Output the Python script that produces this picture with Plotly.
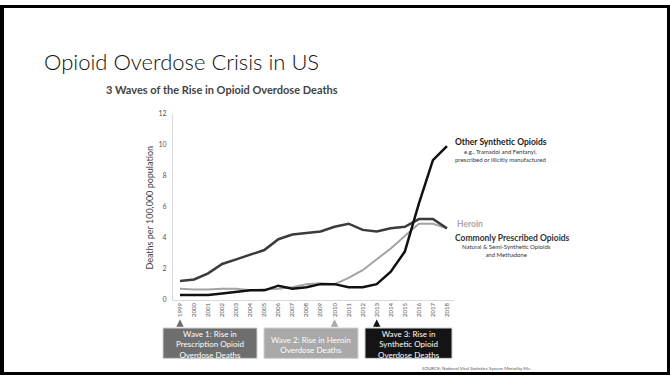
import plotly.graph_objects as go

years = list(range(1999, 2019))
commonly_prescribed = [1.2, 1.3, 1.7, 2.3, 2.6, 2.9, 3.2, 3.9, 4.2, 4.3, 4.4, 4.7, 4.9, 4.5, 4.4, 4.6, 4.7, 5.2, 5.2, 4.6]
heroin = [0.7, 0.65, 0.65, 0.7, 0.7, 0.6, 0.65, 0.7, 0.8, 1.0, 1.05, 1.0, 1.4, 1.9, 2.6, 3.3, 4.1, 4.9, 4.9, 4.6]
synthetic = [0.3, 0.3, 0.3, 0.4, 0.5, 0.6, 0.6, 0.9, 0.7, 0.8, 1.0, 1.0, 0.8, 0.8, 1.0, 1.8, 3.1, 6.2, 9.0, 9.9]
y_ticks = [0, 2, 4, 6, 8, 10, 12]

wave_years = [1999, 2010, 2013]
wave_texts = ["Wave 1: Rise in<br>Prescription Opioid<br>Overdose Deaths",
              "Wave 2: Rise in Heroin<br>Overdose Deaths",
              "Wave 3: Rise in<br>Synthetic Opioid<br>Overdose Deaths"]
wave_colors = ["#6e6e6e", "#a9a9a9", "#141414"]
arrow_colors = ["#6e6e6e", "#a9a9a9", "#141414"]

W, H = 670, 378
def px(x):
    return x / W
def py(y):
    return 1 - y / H

fig = go.Figure()
fig.add_trace(go.Scatter(x=years, y=heroin, mode="lines", line=dict(color="#a3a3a3", width=2), showlegend=False))
fig.add_trace(go.Scatter(x=years, y=commonly_prescribed, mode="lines", line=dict(color="#3b3b3b", width=2.5), showlegend=False))
fig.add_trace(go.Scatter(x=years, y=synthetic, mode="lines", line=dict(color="#111111", width=2.5), showlegend=False))

FONT = "Lato"
shapes = []
annotations = []

# slide border
shapes += [
    dict(type="rect", xref="paper", yref="paper", x0=0, x1=px(4), y0=0, y1=1, fillcolor="#000", line=dict(width=0)),
    dict(type="rect", xref="paper", yref="paper", x0=0, x1=1, y0=py(3), y1=1, fillcolor="#000", line=dict(width=0)),
    dict(type="rect", xref="paper", yref="paper", x0=px(667), x1=1, y0=0, y1=1, fillcolor="#000", line=dict(width=0)),
    dict(type="rect", xref="paper", yref="paper", x0=0, x1=1, y0=0, y1=py(375), fillcolor="#000", line=dict(width=0)),
]

# wave boxes
boxes = [(163, 257), (264, 358), (365, 452)]
for (x0, x1), col, txt in zip(boxes, wave_colors, wave_texts):
    shapes.append(dict(type="rect", xref="paper", yref="paper", x0=px(x0), x1=px(x1), y0=py(361), y1=py(330),
                       fillcolor=col, line=dict(color="#d0d0d0", width=1)))
    annotations.append(dict(xref="paper", yref="paper", x=px((x0 + x1) / 2), y=py(347), text=txt, showarrow=False,
                            xanchor="center", yanchor="middle",
                            font=dict(family=FONT, size=8, color="white"), align="center"))

for yr, col in zip(wave_years, arrow_colors):
    annotations.append(dict(x=yr, y=py(321), xref="x", yref="paper", ax=0, ay=9, axref="pixel", ayref="pixel",
                            text="", showarrow=True, arrowhead=2, arrowsize=1, arrowwidth=1.5, arrowcolor=col))

annotations += [
    dict(xref="paper", yref="paper", x=px(42), y=py(58), text="Opioid Overdose Crisis in US", showarrow=False,
         xanchor="left", yanchor="middle", font=dict(family=FONT, size=22, color="#111", weight=300)),
    dict(xref="paper", yref="paper", x=px(222), y=py(86), text="<b>3 Waves of the Rise in Opioid Overdose Deaths</b>",
         showarrow=False, xanchor="center", yanchor="middle", font=dict(family=FONT, size=11, color="#444")),
    dict(xref="paper", yref="paper", x=px(150), y=py(207), text="Deaths per 100,000 population", textangle=-90,
         showarrow=False, xanchor="center", yanchor="middle", font=dict(family=FONT, size=9, color="#444")),
    dict(xref="paper", yref="paper", x=px(453), y=py(140), text="<b>Other Synthetic Opioids</b>", showarrow=False,
         xanchor="left", yanchor="middle", font=dict(family=FONT, size=8.5, color="#222")),
    dict(xref="paper", yref="paper", x=px(500), y=py(154), text="e.g., Tramadol and Fentanyl,<br>prescribed or illicitly manufactured",
         showarrow=False, xanchor="center", yanchor="middle", font=dict(family=FONT, size=6, color="#333")),
    dict(xref="paper", yref="paper", x=px(455), y=py(224), text="<b>Heroin</b>", showarrow=False,
         xanchor="left", yanchor="middle", font=dict(family=FONT, size=8.5, color="#a8a8a8")),
    dict(xref="paper", yref="paper", x=px(453), y=py(238), text="<b>Commonly Prescribed Opioids</b>", showarrow=False,
         xanchor="left", yanchor="middle", font=dict(family=FONT, size=8.5, color="#333")),
    dict(xref="paper", yref="paper", x=px(506), y=py(250.5), text="Natural &amp; Semi-Synthetic Opioids<br>and Methadone",
         showarrow=False, xanchor="center", yanchor="middle", font=dict(family=FONT, size=6, color="#333")),
    dict(xref="paper", yref="paper", x=px(420), y=py(371), text="SOURCE: National Vital Statistics System Mortality File",
         showarrow=False, xanchor="left", yanchor="middle", font=dict(family=FONT, size=4.5, color="#555")),
]

fig.update_layout(
    width=W, height=H,
    margin=dict(l=0, r=0, t=0, b=0),
    paper_bgcolor="white", plot_bgcolor="white",
    shapes=shapes, annotations=annotations,
    xaxis=dict(domain=[px(173), px(454)], range=[1998.5, 2018.5], tickmode="array", tickvals=years,
               ticktext=[str(y) for y in years], tickangle=-90, tickfont=dict(family=FONT, size=6, color="#555"),
               showgrid=False, zeroline=False, showline=True, linecolor="#d9d9d9", linewidth=1, ticks=""),
    yaxis=dict(domain=[py(301), py(111)], range=[0, 12], tickmode="array", tickvals=y_ticks,
               tickfont=dict(family=FONT, size=7, color="#555"), showgrid=False, zeroline=False,
               showline=True, linecolor="#d9d9d9", linewidth=1, ticks="", ticklabelstandoff=4),
)

fig.write_html("out.html")
